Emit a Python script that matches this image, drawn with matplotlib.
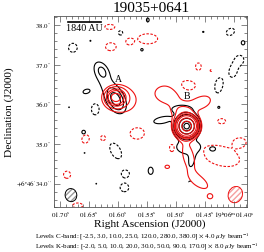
import numpy as np
import matplotlib
matplotlib.use("Agg")
import matplotlib.pyplot as plt
from matplotlib.patches import Ellipse

plt.rcParams['font.family'] = ['Liberation Serif', 'DejaVu Serif']
plt.rcParams['mathtext.fontset'] = 'stix'

# map centre used for offsets: 19h06m01.55s, +6d46'36.0"
ra0, dec0 = 1.55, 36.0
cosd = np.cos(np.radians(6 + 46 / 60 + 36 / 3600))

# contour levels (multiples of rms)
c_levels = [-2.5, 3.0, 10.0, 25.0, 120.0, 280.0, 380.0]
k_levels = [-2.0, 5.0, 10.0, 20.0, 30.0, 50.0, 90.0, 170.0]

# C-band emission components
# RA (s after 19h06m), Dec (arcsec after +6d46'), peak (rms), sigma maj/min ("), PA (deg)
c_ra = [1.4819, 1.4785, 1.4735, 1.4366, 1.5238, 1.4903,
        1.6044, 1.6279, 1.6195, 1.6547,
        1.5490, 1.5591, 1.4533, 1.3846, 1.6597, 1.5440, 1.4265,
        1.6480, 1.6849, 1.6581, 1.6379, 1.6027, 1.4768,
        1.6782, 1.6396, 1.5960, 1.4064, 1.3896, 1.4013, 1.4265, 1.6044, 1.5876, 1.5893]
c_dec = [35.45, 34.925, 34.575, 34.875, 35.60, 35.875,
         36.125, 36.825, 36.50, 36.325,
         38.125, 37.375, 37.825, 37.55, 35.30, 34.325, 35.925,
         37.60, 35.925, 34.775, 34.0, 35.225, 34.05,
         37.425, 35.875, 37.80, 37.825, 37.125, 36.85, 36.475, 34.825, 34.25, 33.90]
c_amp = [450, 6, 4.5, 4, 5, 5,
         40, 12, 5, 4,
         3.8, 3.6, 3.3, 4.0, 4.0, 4.5, 3.6,
         3.15, 3.15, 3.15, 3.15, 3.15, -2.8,
         -3.5, -3.5, -3.0, -3.3, -3.3, -3.5, -3.5, -3.5, -3.3, -3.4]
c_smaj = [0.12, 0.26, 0.16, 0.08, 0.22, 0.25,
          0.16, 0.12, 0.45, 0.12,
          0.07, 0.05, 0.04, 0.07, 0.06, 0.10, 0.05,
          0.03, 0.03, 0.03, 0.03, 0.03, 0.04,
          0.137, 0.17, 0.09, 0.15, 0.12, 0.20, 0.23, 0.26, 0.12, 0.14]
c_smin = [0.12, 0.15, 0.07, 0.06, 0.08, 0.10,
          0.10, 0.08, 0.15, 0.07,
          0.05, 0.05, 0.03, 0.06, 0.06, 0.07, 0.05,
          0.03, 0.03, 0.03, 0.03, 0.03, 0.03,
          0.137, 0.12, 0.09, 0.11, 0.11, 0.12, 0.12, 0.15, 0.10, 0.13]
c_pa = [0, 0, 80, 0, 10, 0,
        -62, -62, -62, 15,
        90, 0, 0, 90, 0, 90, 0,
        0, 0, 0, 0, 0, 0,
        0, 90, 0, 30, 90, 80, 80, -60, 0, 0]

# K-band emission components
k_ra = [1.4819, 1.5154, 1.4567, 1.4903, 1.4785, 1.4600,
        1.6044, 1.5909, 1.5154, 1.4416,
        1.6145, 1.6128, 1.5809, 1.5490, 1.4617, 1.4399, 1.4836, 1.4231,
        1.3896, 1.4215, 1.6883, 1.6698, 1.6564, 1.6262, 1.5675, 1.5070]
k_dec = [35.45, 36.25, 36.05, 35.825, 34.70, 34.05,
         36.175, 36.10, 34.425, 33.675,
         37.95, 37.45, 37.575, 37.65, 36.95, 36.85, 36.45, 34.70,
         35.05, 35.575, 34.225, 33.45, 35.125, 35.15, 35.275, 34.90]
k_amp = [250, 9, 8, 10, 9, 8,
         60, 8, 7, 7,
         -3, -3, -3, -3, -3, -2.3, -4, -3,
         -3, -3, -3, -3, -3, -3, -3, -3]
k_smaj = [0.14, 0.28, 0.25, 0.20, 0.32, 0.25,
          0.15, 0.32, 0.07, 0.07,
          0.14, 0.15, 0.08, 0.28, 0.10, 0.04, 0.23, 0.55,
          0.14, 0.11, 0.10, 0.14, 0.12, 0.07, 0.21, 0.10]
k_smin = [0.14, 0.20, 0.15, 0.15, 0.14, 0.12,
          0.13, 0.28, 0.05, 0.06,
          0.07, 0.11, 0.07, 0.14, 0.08, 0.04, 0.14, 0.27,
          0.10, 0.07, 0.10, 0.07, 0.10, 0.07, 0.17, 0.07]
k_pa = [0, -10, 20, 0, -75, -35,
        0, 0, 0, 0,
        0, 0, 0, 0, 90, 0, 0, -15,
        0, 0, 0, 0, 60, 0, 0, 90]

# synthesised beams: major, minor (arcsec), angle (deg)
c_beam = [0.33, 0.30, 100]
k_beam = [0.42, 0.36, 65]

ra_ticks = [1.70, 1.65, 1.60, 1.55, 1.50, 1.45, 1.40]
ra_labels = [r'$01.70^{\mathrm{s}}$', r'$01.65^{\mathrm{s}}$', r'$01.60^{\mathrm{s}}$',
             r'$01.55^{\mathrm{s}}$', r'$01.50^{\mathrm{s}}$', r'$01.45^{\mathrm{s}}$',
             r'$19^{\mathrm{h}}06^{\mathrm{m}}01.40^{\mathrm{s}}$']
dec_ticks = [34.0, 35.0, 36.0, 37.0, 38.0]
dec_labels = [r'$+6^{\circ}46^{\prime}34.0^{\prime\prime}$', r'$35.0^{\prime\prime}$',
              r'$36.0^{\prime\prime}$', r'$37.0^{\prime\prime}$', r'$38.0^{\prime\prime}$']


def to_u(ra):
    return (ra0 - np.asarray(ra)) * 15 * cosd


def to_v(dec):
    return np.asarray(dec) - dec0


def make_map(ra, dec, amp, smaj, smin, pa, U, V):
    img = np.zeros_like(U)
    for r, d, a, s1, s2, p in zip(ra, dec, amp, smaj, smin, pa):
        du = U - to_u(r)
        dv = V - to_v(d)
        t = np.radians(p)
        x = du * np.cos(t) + dv * np.sin(t)
        y = -du * np.sin(t) + dv * np.cos(t)
        img += a * np.exp(-0.5 * ((x / s1) ** 2 + (y / s2) ** 2))
    return img


u = np.arange(-2.45, 2.75, 0.008)
v = np.arange(-2.75, 2.45, 0.008)
U, V = np.meshgrid(u, v)
cmap_img = make_map(c_ra, c_dec, c_amp, c_smaj, c_smin, c_pa, U, V)
kmap_img = make_map(k_ra, k_dec, k_amp, k_smaj, k_smin, k_pa, U, V)

fig = plt.figure(figsize=(2.64, 2.52), dpi=100)
ax = fig.add_axes([0.2064, 0.1766, 0.7292, 0.7599])

dash = (0, (2.2, 1.4))
ax.contour(U, V, cmap_img, levels=c_levels, colors='black', linewidths=0.8,
           linestyles=[dash if l < 0 else 'solid' for l in c_levels])
ax.contour(U, V, kmap_img, levels=k_levels, colors='#ee1111', linewidths=0.8,
           linestyles=[dash if l < 0 else 'solid' for l in k_levels])

ax.set_xlim(-2.2475, 2.565)
ax.set_ylim(-2.5625, 2.225)

# beams
bc = (-1.96, -2.2875)
ax.add_patch(Ellipse(bc, c_beam[1], c_beam[0], angle=c_beam[2] - 90, fill=False,
                     hatch='//////', edgecolor='#999999', linewidth=0))
ax.add_patch(Ellipse(bc, c_beam[1], c_beam[0], angle=c_beam[2] - 90, fill=False,
                     edgecolor='black', linewidth=0.7))
bk = (2.265, -2.275)
ax.add_patch(Ellipse(bk, k_beam[1], k_beam[0], angle=k_beam[2] - 90, fill=False,
                     hatch='//////', edgecolor='#f5a0a0', linewidth=0))
ax.add_patch(Ellipse(bk, k_beam[1], k_beam[0], angle=k_beam[2] - 90, fill=False,
                     edgecolor='#ee1111', linewidth=0.7))

# scale bar
ax.plot([-2.035, -1.185], [2.075, 2.075], color='black', lw=1.2)
ax.text(-1.61, 1.91, '1840 AU', ha='center', va='center', fontsize=7.3)
ax.text(-0.735, 0.625, 'A', ha='center', va='center', fontsize=7)
ax.text(1.015, 0.2, 'B', ha='center', va='center', fontsize=7)

ax.set_xticks(to_u(ra_ticks))
ax.set_xticklabels(ra_labels)
ax.set_xticks(to_u(np.arange(1.38, 1.71, 0.01)), minor=True)
ax.set_yticks(to_v(dec_ticks))
ax.set_yticklabels(dec_labels)
ax.set_yticks(to_v(np.arange(33.4, 38.3, 0.2)), minor=True)
ax.tick_params(which='both', direction='in', top=True, right=True, color='#555555',
               width=0.5, labelsize=5, pad=2)
ax.tick_params(which='major', length=4)
ax.tick_params(which='minor', length=2)
for s in ax.spines.values():
    s.set_linewidth(0.6)
    s.set_color('#555555')

fig.text(0.571, 0.968, '19035+0641', ha='center', va='center', fontsize=11)
fig.text(0.034, 0.556, 'Declination (J2000)', rotation=90, ha='center', va='center', fontsize=8.2)
fig.text(0.569, 0.111, 'Right Ascension (J2000)', ha='center', va='center', fontsize=8.2)
fig.text(0.133, 0.06, r'Levels C-band: [-2.5, 3.0, 10.0, 25.0, 120.0, 280.0, 380.0] $\times$ 4.0 $\mu$Jy beam$^{-1}$',
         ha='left', va='center', fontsize=5)
fig.text(0.133, 0.022, r'Levels K-band: [-2.0, 5.0, 10.0, 20.0, 30.0, 50.0, 90.0, 170.0] $\times$ 8.0 $\mu$Jy beam$^{-1}$',
         ha='left', va='center', fontsize=5)

fig.savefig('out.png', dpi=100)
